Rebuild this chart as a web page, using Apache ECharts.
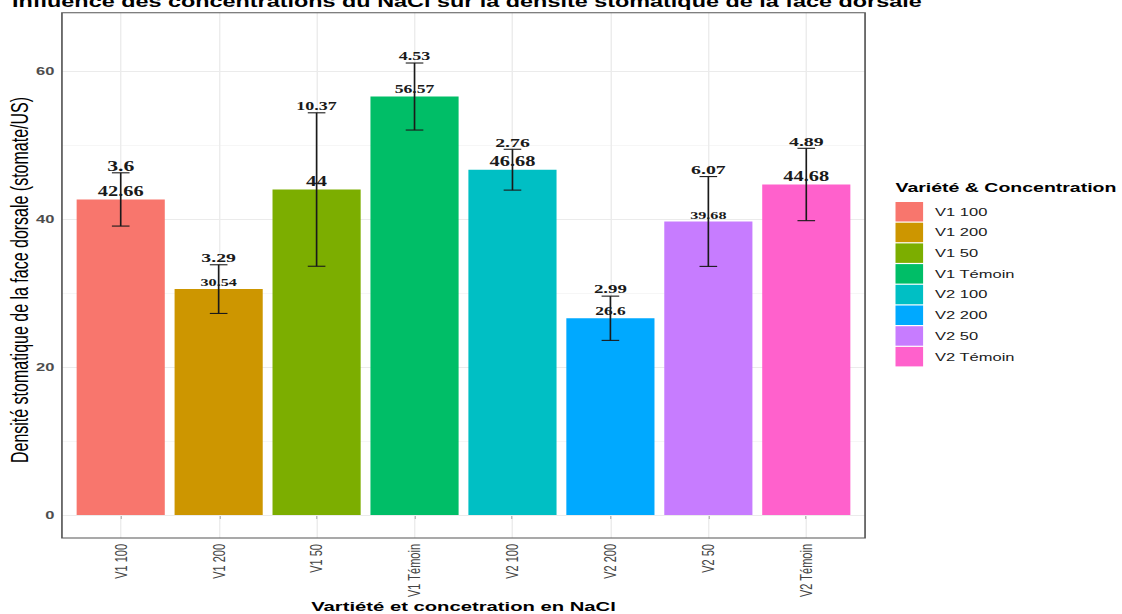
<!DOCTYPE html>
<html lang="fr">
<head>
<meta charset="utf-8">
<title>Densité stomatique de la face dorsale</title>
<script src="https://cdn.jsdelivr.net/npm/echarts@6/dist/echarts.min.js"></script>
<style>
  html, body { margin: 0; padding: 0; background: #fff; overflow: hidden; }
  #wrap { width: 1122px; height: 614px; overflow: hidden; }
  /* the chart is laid out narrow and widened horizontally */
  #chart { width: 748px; height: 614px; transform: scaleX(1.5); transform-origin: 0 0; }
</style>
</head>
<body>
<div id="wrap"><div id="chart"></div></div>
<script>
// Variété & concentration en NaCl
const categories = ['V1 100', 'V1 200', 'V1 50', 'V1 Témoin', 'V2 100', 'V2 200', 'V2 50', 'V2 Témoin'];
// moyennes (stomate/US)
const meanValues = [42.66, 30.54, 44, 56.57, 46.68, 26.6, 39.68, 44.68];
// écarts-types
const sdValues = [3.6, 3.29, 10.37, 4.53, 2.76, 2.99, 6.07, 4.89];
const yTicks = [0, 20, 40, 60];
const yMinorTicks = [10, 30, 50];
const palette = ['#F8766D', '#CD9600', '#7CAE00', '#00BE67', '#00BFC4', '#00A9FF', '#C77CFF', '#FF61CC'];
// label font sizes (px) for the mean and standard-deviation annotations
const meanLabelSize = [13.6, 10.8, 14, 11.8, 13.6, 11.6, 10.8, 13.6];
const sdLabelSize = [14.5, 13.2, 12, 12, 13.2, 12.6, 13.2, 13.2];

const panel = { left: 41.3, top: 12.7, width: 535.4, height: 525.3 };
const xMin = -0.6, xMax = categories.length - 1 + 0.6;
const unitPx = panel.width / (xMax - xMin);
const barWidth = 0.9 * unitPx;
const idx = categories.map((_, i) => i);

const labelFont = '"Liberation Serif", "DejaVu Serif", serif';
const sansFont = '"Liberation Sans", Arial, sans-serif';

const chart = echarts.init(document.getElementById('chart'), null, { renderer: 'svg' });

const gridLines = [];
yTicks.forEach(v => gridLines.push({ yAxis: v, lineStyle: { color: '#EBEBEB', width: 1, type: 'solid' } }));
yMinorTicks.forEach(v => gridLines.push({ yAxis: v, lineStyle: { color: '#EEEEEE', width: 0.7, type: 'solid' } }));
idx.forEach(i => gridLines.push({ xAxis: i, lineStyle: { color: '#EBEBEB', width: 0.9, type: 'solid' } }));

const barSeries = categories.map((name, i) => ({
  name: name,
  type: 'bar',
  data: [[i, meanValues[i]]],
  barWidth: barWidth,
  barGap: '-100%',
  itemStyle: { color: palette[i] },
  z: 2,
  label: {
    show: true,
    position: 'top',
    distance: 1,
    formatter: () => String(meanValues[i]),
    fontFamily: labelFont,
    fontWeight: 'bold',
    fontSize: meanLabelSize[i],
    color: '#1a1a1a'
  }
}));

const option = {
  animation: false,
  backgroundColor: '#fff',
  textStyle: { fontFamily: sansFont },
  grid: { left: panel.left, top: panel.top, width: panel.width, height: panel.height, show: true, backgroundColor: '#fff', borderWidth: 0 },
  legend: {
    data: categories,
    orient: 'vertical',
    left: 592,
    top: 197,
    icon: 'rect',
    itemWidth: 18.4,
    itemHeight: 19.5,
    itemGap: 1.2,
    selectedMode: false,
    textStyle: { fontSize: 11, color: '#1a1a1a', fontFamily: sansFont, padding: [0, 0, 0, 3] }
  },
  xAxis: {
    type: 'value',
    min: xMin,
    max: xMax,
    axisLine: { show: false },
    splitLine: { show: false },
    axisTick: { show: true, customValues: idx, length: 4, lineStyle: { color: '#333', width: 1 } },
    axisLabel: {
      customValues: idx,
      formatter: v => categories[Math.round(v)],
      rotate: 90,
      margin: 6,
      fontSize: 11,
      color: '#444',
      fontFamily: sansFont
    }
  },
  yAxis: {
    type: 'value',
    min: -3.1,
    max: 67.9,
    axisLine: { show: false },
    splitLine: { show: false },
    axisTick: { show: true, customValues: yTicks, length: 2.7, lineStyle: { color: '#333', width: 1 } },
    axisLabel: {
      customValues: yTicks,
      margin: 5,
      fontSize: 11,
      fontWeight: 'bold',
      color: '#4d4d4d',
      fontFamily: sansFont
    }
  },
  graphic: [
    {
      type: 'text', x: 8, y: 9.3, z: 10,
      style: { text: 'Influence des concentrations du NaCl sur la densité stomatique de la face dorsale',
               font: 'bold 15.6px ' + sansFont, fill: '#000', textAlign: 'left', textVerticalAlign: 'bottom' }
    },
    {
      type: 'text', x: 13.3, y: 280, rotation: Math.PI / 2, z: 10,
      style: { text: 'Densité stomatique de la face dorsale (stomate/US)',
               font: '16px ' + sansFont, fill: '#000', textAlign: 'center', textVerticalAlign: 'middle' }
    },
    {
      type: 'text', x: panel.left + panel.width / 2, y: 606, z: 10,
      style: { text: 'Vartiété et concetration en NaCl',
               font: 'bold 13.5px ' + sansFont, fill: '#000', textAlign: 'center', textVerticalAlign: 'middle' }
    },
    {
      type: 'text', x: 597, y: 188, z: 10,
      style: { text: 'Variété & Concentration',
               font: 'bold 13px ' + sansFont, fill: '#000', textAlign: 'left', textVerticalAlign: 'middle' }
    },
    {
      type: 'rect', z: 20, silent: true,
      shape: { x: panel.left, y: panel.top, width: panel.width, height: panel.height },
      style: { fill: 'none', stroke: '#555', lineWidth: 1.1 }
    }
  ],
  series: [
    {
      type: 'line',
      data: [],
      silent: true,
      markLine: {
        z: 1,
        silent: true,
        symbol: ['none', 'none'],
        label: { show: false },
        emphasis: { disabled: true },
        data: gridLines
      }
    },
    ...barSeries,
    {
      type: 'custom',
      z: 5,
      silent: true,
      encode: { x: 0, y: 1 },
      data: meanValues.map((m, i) => [i, m, sdValues[i]]),
      renderItem: (params, api) => {
        const i = params.dataIndex;
        const x = api.value(0), m = api.value(1), s = api.value(2);
        const top = api.coord([x, m + s]);
        const bot = api.coord([x, m - s]);
        const l = api.coord([x - 0.09, m])[0];
        const r = api.coord([x + 0.09, m])[0];
        const st = { stroke: '#1a1a1a', lineWidth: 1.1 };
        return {
          type: 'group',
          children: [
            { type: 'line', shape: { x1: top[0], y1: top[1], x2: bot[0], y2: bot[1] }, style: st },
            { type: 'line', shape: { x1: l, y1: top[1], x2: r, y2: top[1] }, style: st },
            { type: 'line', shape: { x1: l, y1: bot[1], x2: r, y2: bot[1] }, style: st },
            { type: 'text', x: top[0], y: top[1] - 7,
              style: { text: String(sdValues[i]), font: 'bold ' + sdLabelSize[i] + 'px ' + labelFont,
                       fill: '#1a1a1a', textAlign: 'center', textVerticalAlign: 'middle' } }
          ]
        };
      }
    }
  ]
};

chart.setOption(option);
</script>
</body>
</html>
